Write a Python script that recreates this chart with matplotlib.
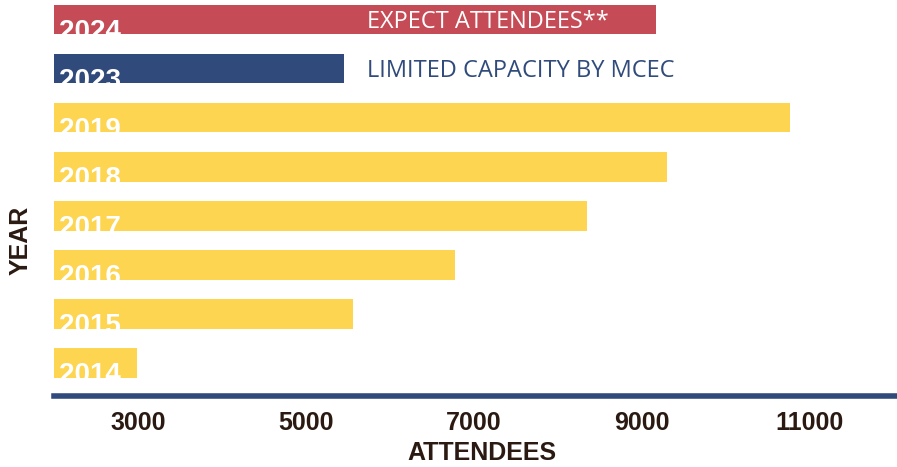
import matplotlib.pyplot as plt
import numpy as np

# -----------------------------
# Data
# -----------------------------
years = ["2014", "2015", "2016", "2017", "2018", "2019", "2023", "2024"]
attendees = [2990, 5560, 6780, 8350, 9300, 10760, 5450, 9170]
kinds = ["past", "past", "past", "past", "past", "past", "limited", "expected"]
notes = {"limited": "LIMITED CAPACITY BY MCEC", "expected": "EXPECT ATTENDEES**"}
xticks = [3000, 5000, 7000, 9000, 11000]

COLORS = {"past": "#fdd551", "limited": "#304b7b", "expected": "#c54c56"}
NOTE_COLORS = {"limited": "#304b7b", "expected": "white"}
AXIS_BLUE = "#304b7b"
TEXT_DARK = "#2a1a12"
X0 = 2000

fig = plt.figure(figsize=(8.97, 4.67), dpi=100)
ax = fig.add_axes([0.060, 0.152, 0.940, 0.848])

y = np.arange(len(years))
ax.barh(y, [a - X0 for a in attendees], left=X0, height=0.6,
        color=[COLORS[k] for k in kinds])

for i, (yr, k) in enumerate(zip(years, kinds)):
    ax.text(X0 + 65, i - 0.39, yr, color="white", fontsize=20,
            fontweight="bold", family="Liberation Sans", va="baseline", ha="left")
    if k in notes:
        ax.text(5730, i - 0.05, notes[k], color=NOTE_COLORS[k], fontsize=17,
                family="Open Sans", va="center", ha="left")

ax.set_xlim(X0, 12040)
ax.set_ylim(-0.67, 7.4)

for s in ["top", "right", "left"]:
    ax.spines[s].set_visible(False)
ax.spines["bottom"].set_color(AXIS_BLUE)
ax.spines["bottom"].set_linewidth(4)

ax.set_yticks([])
ax.set_xticks(xticks)
ax.set_xticklabels([str(t) for t in xticks])
ax.tick_params(axis="x", length=0, pad=11, labelsize=18, labelcolor=TEXT_DARK)
for lab in ax.get_xticklabels():
    lab.set_fontweight("bold")
    lab.set_family("Liberation Sans")

fig.text(482 / 897, 1 - 453 / 467, "ATTENDEES", fontsize=18, fontweight="bold",
         color=TEXT_DARK, family="Liberation Sans", ha="center", va="center")
fig.text(21 / 897, 1 - 240 / 467, "YEAR", fontsize=18, fontweight="bold",
         color=TEXT_DARK, family="Liberation Sans", ha="center", va="center",
         rotation=90)

fig.savefig("out.png", dpi=100)
